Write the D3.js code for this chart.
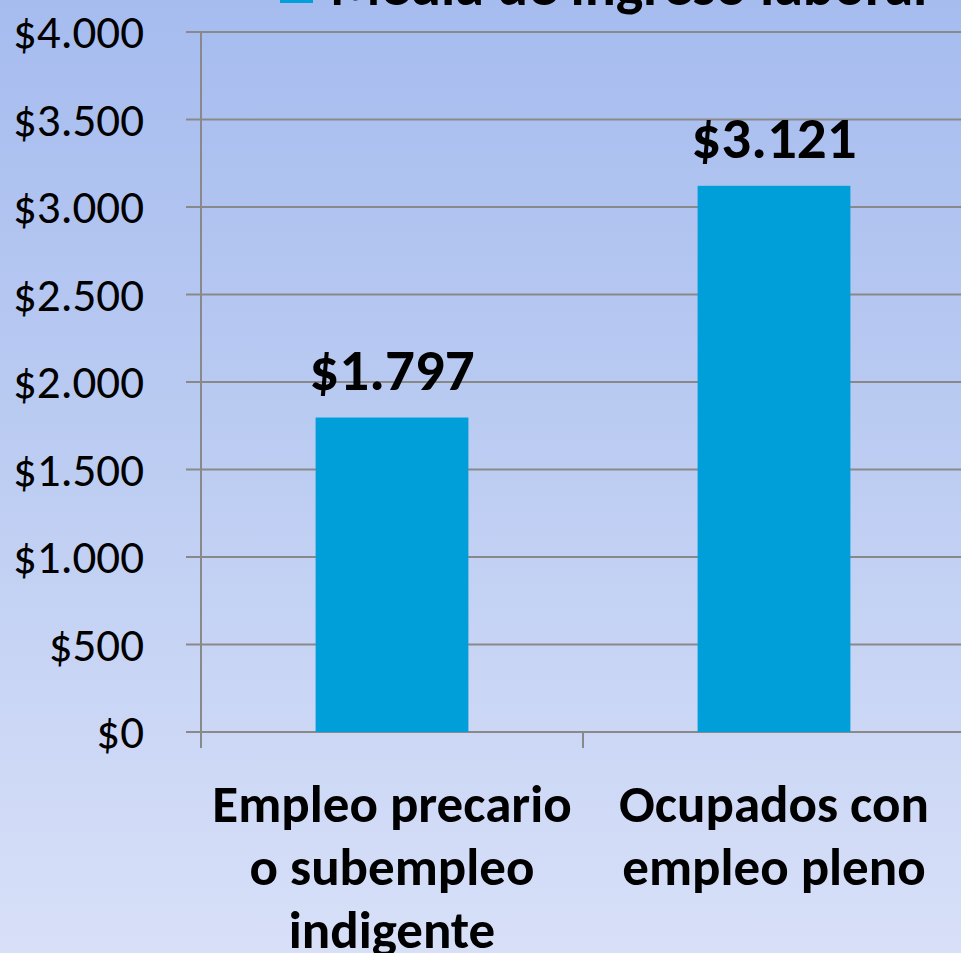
<!DOCTYPE html>
<html>
<head>
<meta charset="utf-8">
<script src="https://cdn.jsdelivr.net/npm/d3@7"></script>
<style>
    html, body { margin: 0; padding: 0; overflow: hidden; }
    svg { display: block; }
</style>
</head>
<body>
<div id="chart"></div>
<script>
    // Data
    var categories = [
        ['Empleo precario', 'o subempleo', 'indigente'],
        ['Ocupados con', 'empleo pleno']
    ];
    var values = [1797, 3121];
    var seriesName = 'Media de ingreso laboral';
    var yTicks = [0, 500, 1000, 1500, 2000, 2500, 3000, 3500, 4000];

    var width = 961,
        height = 953;
    var font = "Carlito, Calibri, Lato, 'Open Sans', sans-serif";

    var svg = d3.select('#chart').append('svg')
        .attr('width', width)
        .attr('height', height);

    // Background gradient
    var grad = svg.append('defs').append('linearGradient')
        .attr('id', 'bg')
        .attr('x1', 0).attr('y1', 0).attr('x2', 0).attr('y2', 1);
    grad.append('stop').attr('offset', '0%').attr('stop-color', '#a6bcef');
    grad.append('stop').attr('offset', '50%').attr('stop-color', '#bdcdf2');
    grad.append('stop').attr('offset', '100%').attr('stop-color', '#d8e0f8');
    svg.append('rect')
        .attr('width', width)
        .attr('height', height)
        .attr('fill', 'url(#bg)');

    // Scales
    var x = d3.scaleBand()
        .domain(d3.range(categories.length))
        .range([201, 965])
        .paddingInner(0.6)
        .paddingOuter(0.3);
    var y = d3.scaleLinear()
        .domain([0, 4000])
        .range([732, 32]);

    var fmt = function(v) {
        return '$' + d3.format(',')(v).replace(/,/g, '.');
    };

    // Gridlines
    svg.append('g')
        .selectAll('line')
        .data(yTicks)
        .enter()
        .append('line')
        .attr('x1', 186)
        .attr('x2', width)
        .attr('y1', function(d) { return y(d); })
        .attr('y2', function(d) { return y(d); })
        .attr('stroke', '#898989')
        .attr('stroke-width', 2);

    // Y axis labels
    svg.append('g')
        .selectAll('text')
        .data(yTicks)
        .enter()
        .append('text')
        .attr('x', 144)
        .attr('y', function(d) { return y(d); })
        .attr('dy', '0.35em')
        .attr('text-anchor', 'end')
        .style('font-family', font)
        .style('font-size', '47px')
        .attr('fill', '#000')
        .text(fmt);

    // Y axis line
    svg.append('line')
        .attr('x1', 201).attr('x2', 201)
        .attr('y1', y(4000)).attr('y2', 748)
        .attr('stroke', '#898989')
        .attr('stroke-width', 2);

    // Category tick marks
    var step = x.step();
    svg.append('g')
        .selectAll('line')
        .data(d3.range(categories.length + 1))
        .enter()
        .append('line')
        .attr('x1', function(i) { return 201 + i * step; })
        .attr('x2', function(i) { return 201 + i * step; })
        .attr('y1', y(0))
        .attr('y2', 748)
        .attr('stroke', '#898989')
        .attr('stroke-width', 2);

    // Bars
    svg.append('g')
        .selectAll('rect')
        .data(values)
        .enter()
        .append('rect')
        .attr('x', function(d, i) { return x(i); })
        .attr('y', function(d) { return y(d); })
        .attr('width', x.bandwidth())
        .attr('height', function(d) { return y(0) - y(d); })
        .attr('fill', '#009fd9');

    // Value labels
    svg.append('g')
        .selectAll('text')
        .data(values)
        .enter()
        .append('text')
        .attr('x', function(d, i) { return x(i) + x.bandwidth() / 2; })
        .attr('y', function(d) { return y(d) - 28; })
        .attr('text-anchor', 'middle')
        .style('font-family', font)
        .style('font-size', '59px')
        .style('font-weight', 'bold')
        .attr('fill', '#000')
        .text(fmt);

    // Category labels
    var catG = svg.append('g')
        .selectAll('text')
        .data(categories)
        .enter()
        .append('text')
        .attr('text-anchor', 'middle')
        .style('font-family', font)
        .style('font-size', '53px')
        .style('font-weight', 'bold')
        .attr('fill', '#000');
    catG.each(function(lines, i) {
        var t = d3.select(this);
        var cx = x(i) + x.bandwidth() / 2;
        lines.forEach(function(line, j) {
            t.append('tspan')
                .attr('x', cx)
                .attr('y', 822 + j * 63)
                .text(line);
        });
    });

    // Legend (cut off at the top)
    svg.append('rect')
        .attr('x', 280)
        .attr('y', -30)
        .attr('width', 33)
        .attr('height', 33)
        .attr('fill', '#009fd9');
    svg.append('text')
        .attr('x', 330)
        .attr('y', 5)
        .style('font-family', font)
        .style('font-size', '58px')
        .style('font-weight', 'bold')
        .attr('fill', '#000')
        .text(seriesName);
</script>
</body>
</html>
